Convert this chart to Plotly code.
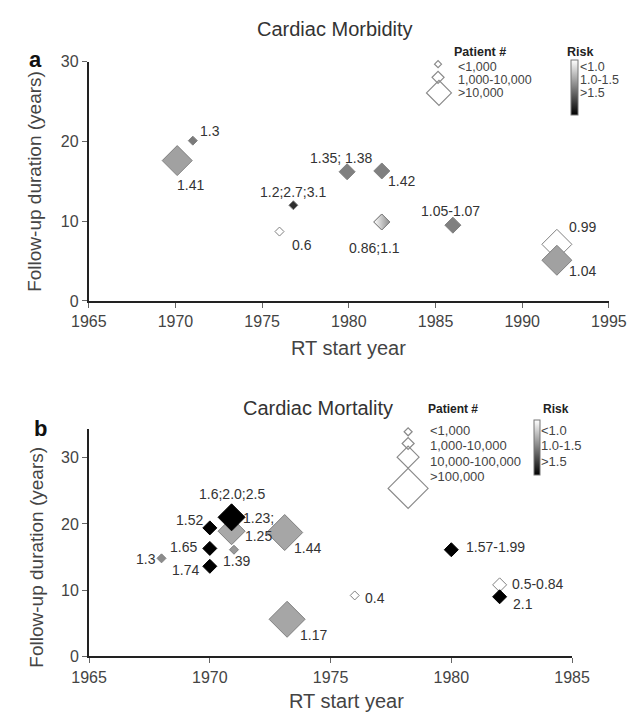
import plotly.graph_objects as go

W, H = 642, 722
FONT = "Liberation Sans, Arial, sans-serif"

# ---------------- data: panel a (Cardiac Morbidity) ----------------
a_year = [1971.0, 1970.1, 1976.8, 1976.0, 1979.9, 1981.9, 1981.9, 1986.0, 1992.0, 1992.0]
a_follow = [20.1, 17.6, 12.0, 8.7, 16.2, 16.3, 9.9, 9.5, 7.1, 5.1]
a_label = ["1.3", "1.41", "1.2;2.7;3.1", "0.6", "1.35; 1.38", "1.42", "0.86;1.1",
           "1.05-1.07", "0.99", "1.04"]
a_patients = ["<1,000", ">10,000", "<1,000", "<1,000", "1,000-10,000", "1,000-10,000",
              "1,000-10,000", "1,000-10,000", ">10,000", ">10,000"]
# risk shade: 0 = black (>1.5) ... 1 = white (<1.0)
a_shade = [0.48, 0.63, 0.18, 1.0, 0.5, 0.5, 0.75, 0.5, 1.0, 0.63]
a_mixed = [False, False, False, False, False, False, True, False, False, False]
a_patient_classes = ["<1,000", "1,000-10,000", ">10,000"]

# ---------------- data: panel b (Cardiac Mortality) ----------------
b_year = [1968.0, 1970.0, 1970.0, 1970.0, 1970.9, 1970.9, 1971.0, 1973.1, 1973.2,
          1976.0, 1980.0, 1982.0, 1982.0]
b_follow = [14.8, 19.4, 16.3, 13.6, 18.9, 21.0, 16.1, 18.7, 5.6, 9.2, 16.1, 10.8, 9.0]
b_label = ["1.3", "1.52", "1.65", "1.74", "1.23;<br>1.25", "1.6;2.0;2.5", "1.39", "1.44",
           "1.17", "0.4", "1.57-1.99", "0.5-0.84", "2.1"]
b_patients = ["<1,000", "1,000-10,000", "1,000-10,000", "1,000-10,000", "10,000-100,000",
              "10,000-100,000", "<1,000", ">100,000", ">100,000", "<1,000", "1,000-10,000",
              "1,000-10,000", "1,000-10,000"]
b_shade = [0.55, 0.0, 0.0, 0.0, 0.66, 0.0, 0.6, 0.65, 0.65, 1.0, 0.0, 1.0, 0.0]
b_patient_classes = ["<1,000", "1,000-10,000", "10,000-100,000", ">100,000"]

risk_labels = ["<1.0", "1.0-1.5", ">1.5"]

# ---------------- styles ----------------
a_size_px = {"<1,000": 9, "1,000-10,000": 16, ">10,000": 30}
b_size_px = {"<1,000": 9, "1,000-10,000": 14, "10,000-100,000": 27, ">100,000": 36}
# label centre offsets from marker centre, screen pixels (dx right, dy down)
a_label_off = [(17, -10), (13, 24), (0, -13), (23, 13), (-6, -14), (20, 10), (-7, 26),
               (-2, -14), (26, -17), (26, 11)]
b_label_off = [(-16, 1), (-20, -8), (-26, -1), (-24, 4), (27, -4), (0, -23), (3, 11),
               (23, 15), (26, 16), (20, 3), (44, -3), (38, -1), (23, 7)]
GRAYSCALE = [[0, "#000000"], [1, "#ffffff"]]
LABEL_FONT = dict(family=FONT, size=14, color="#333333")
TICK_FONT = dict(family=FONT, size=16, color="#444444")


def dsize(px):
    # plotly diamond spans 1.3 * size
    return px / 1.3


def line_cols(shades):
    return ["#000000" if s < 0.15 else "#808080" for s in shades]


def px2paper(x, y):
    return x / W, 1 - y / H


fig = go.Figure()

# panel a markers
fig.add_trace(go.Scatter(
    x=a_year, y=a_follow, mode="markers", cliponaxis=False, xaxis="x", yaxis="y",
    showlegend=False,
    marker=dict(symbol="diamond", size=[dsize(a_size_px[p]) for p in a_patients], opacity=1,
                color=a_shade, colorscale=GRAYSCALE, cmin=0, cmax=1,
                line=dict(color=line_cols(a_shade), width=1), showscale=True,
                colorbar=dict(x=585.7 / W, xanchor="left", y=1 - 53.3 / H, yanchor="top",
                              len=55, lenmode="pixels", thickness=7, thicknessmode="pixels",
                              xpad=0, ypad=0, outlinewidth=1, outlinecolor="#777777",
                              showticklabels=False, ticks="", borderwidth=0)),
))
# mixed-risk marker (white-to-gray gradient)
mx = [x for x, m in zip(a_year, a_mixed) if m]
my = [y for y, m in zip(a_follow, a_mixed) if m]
ms = [dsize(a_size_px[p]) for p, m in zip(a_patients, a_mixed) if m]
fig.add_trace(go.Scatter(
    x=mx, y=my, mode="markers", cliponaxis=False, xaxis="x", yaxis="y", showlegend=False,
    marker=dict(symbol="diamond", size=ms, color="#ffffff", opacity=1,
                gradient=dict(type="horizontal", color="#8c8c8c"),
                line=dict(color="#808080", width=1)),
))

# panel b markers
fig.add_trace(go.Scatter(
    x=b_year, y=b_follow, mode="markers", cliponaxis=False, xaxis="x2", yaxis="y2",
    showlegend=False,
    marker=dict(symbol="diamond", size=[dsize(b_size_px[p]) for p in b_patients], opacity=1,
                color=b_shade, colorscale=GRAYSCALE, cmin=0, cmax=1,
                line=dict(color=line_cols(b_shade), width=1), showscale=True,
                colorbar=dict(x=546.7 / W, xanchor="left", y=1 - 421.7 / H, yanchor="top",
                              len=55, lenmode="pixels", thickness=6, thicknessmode="pixels",
                              xpad=0, ypad=0, outlinewidth=1, outlinecolor="#777777",
                              showticklabels=False, ticks="", borderwidth=0)),
))

# ---------------- legends (pixel overlay axes) ----------------
leg_a_pos = [(445, 57.5), (445, 71.0), (446, 87.0)]
leg_a_w = [7, 12, 25]
leg_b_pos = [(413.3, 434), (413.3, 446), (413.3, 460), (413.3, 492)]
leg_b_w = [8, 12, 22, 40]
lx = [p[0] for p in leg_a_pos + leg_b_pos]
ly = [p[1] for p in leg_a_pos + leg_b_pos]
fig.add_trace(go.Scatter(
    x=lx, y=ly, mode="markers", xaxis="x3", yaxis="y3", showlegend=False, cliponaxis=False,
    marker=dict(symbol="diamond", size=[dsize(w) for w in leg_a_w + leg_b_w], opacity=1,
                color="rgba(255,255,255,0)", line=dict(color="#8a8a8a", width=1.2)),
    hoverinfo="skip",
))

annotations = []


def ann(text, x, y, size=14, bold=False, xanchor="left", color="#444444", angle=0):
    px, py = px2paper(x, y)
    annotations.append(dict(
        text=f"<b>{text}</b>" if bold else text, x=px, y=py, xref="paper", yref="paper",
        showarrow=False, xanchor=xanchor, yanchor="middle", textangle=angle,
        font=dict(family=FONT, size=size, color=color)))


# point labels
for xs, ys, labs, offs, xr, yr in [(a_year, a_follow, a_label, a_label_off, "x", "y"),
                                   (b_year, b_follow, b_label, b_label_off, "x2", "y2")]:
    for xv, yv, lab, (dx, dy) in zip(xs, ys, labs, offs):
        annotations.append(dict(
            text=lab, x=xv, y=yv, xref=xr, yref=yr, showarrow=False, xanchor="center",
            yanchor="middle", xshift=dx, yshift=-dy, font=LABEL_FONT))

# panel a legend text
ann("Patient #", 489, 45, size=12.5, bold=True, xanchor="center", color="#222222")
for lab, yy in zip(a_patient_classes, [60.5, 74.0, 87.5]):
    ann(lab, 464, yy, size=12.5)
ann("Risk", 595, 45, size=12.5, bold=True, xanchor="center", color="#222222")
for lab, yy in zip(risk_labels, [60.5, 74.0, 87.5]):
    ann(lab, 593, yy, size=12.5)

# panel b legend text
ann("Patient #", 460.5, 410.7, size=12, bold=True, xanchor="center", color="#222222")
for lab, yy in zip(b_patient_classes, [432.7, 448.5, 464.3, 480.1]):
    ann(lab, 434, yy, size=13)
ann("Risk", 570, 410.7, size=12, bold=True, xanchor="center", color="#222222")
for lab, yy in zip(risk_labels, [432.7, 448.5, 464.3]):
    ann(lab, 552, yy, size=13)

# titles and axis titles
ann("Cardiac Morbidity", 336, 22, size=20, xanchor="center", color="#333333")
ann("Cardiac Mortality", 318, 410, size=20, xanchor="center", color="#333333")
ann("a", 19, 53, size=22, bold=True, xanchor="center", color="#111111")
ann("b", 24, 431, size=22, bold=True, xanchor="center", color="#111111")
ann("Follow-up duration (years)", 18, 177, size=19, xanchor="center", color="#444444", angle=-90)
ann("Follow-up duration (years)", 20, 562, size=19, xanchor="center", color="#444444", angle=-90)
ann("RT start year", 350, 348, size=20, xanchor="center", color="#444444")
ann("RT start year", 348, 710, size=20, xanchor="center", color="#444444")

axis_common = dict(showline=True, linecolor="#222222", linewidth=2, ticks="outside",
                   ticklen=5, tickcolor="#666666", tickwidth=1, showgrid=False,
                   zeroline=False, tickfont=TICK_FONT, fixedrange=True)

fig.update_layout(
    width=W, height=H, margin=dict(l=0, r=0, t=0, b=0), autosize=False,
    paper_bgcolor="white", plot_bgcolor="rgba(0,0,0,0)", showlegend=False,
    font=dict(family=FONT),
    xaxis=dict(domain=[75 / W, 626 / W], range=[1965, 1995],
               tickvals=[1965, 1970, 1975, 1980, 1985, 1990, 1995], anchor="y", **axis_common),
    yaxis=dict(domain=[1 - 300 / H, 1 - 55 / H], range=[0, 30], tickvals=[0, 10, 20, 30],
               anchor="x", **axis_common),
    xaxis2=dict(domain=[75.3 / W, 587 / W], range=[1965, 1985],
                tickvals=[1965, 1970, 1975, 1980, 1985], anchor="y2", **axis_common),
    yaxis2=dict(domain=[1 - 664 / H, 1 - 430.7 / H], range=[0, 34.4],
                tickvals=[0, 10, 20, 30], anchor="x2", **axis_common),
    xaxis3=dict(domain=[0, 1], range=[0, W], visible=False, anchor="y3", fixedrange=True),
    yaxis3=dict(domain=[0, 1], range=[H, 0], visible=False, anchor="x3", fixedrange=True),
    annotations=annotations,
)

fig.write_html("out.html", config={"displayModeBar": False},
               post_script="document.body.style.margin='0';")
